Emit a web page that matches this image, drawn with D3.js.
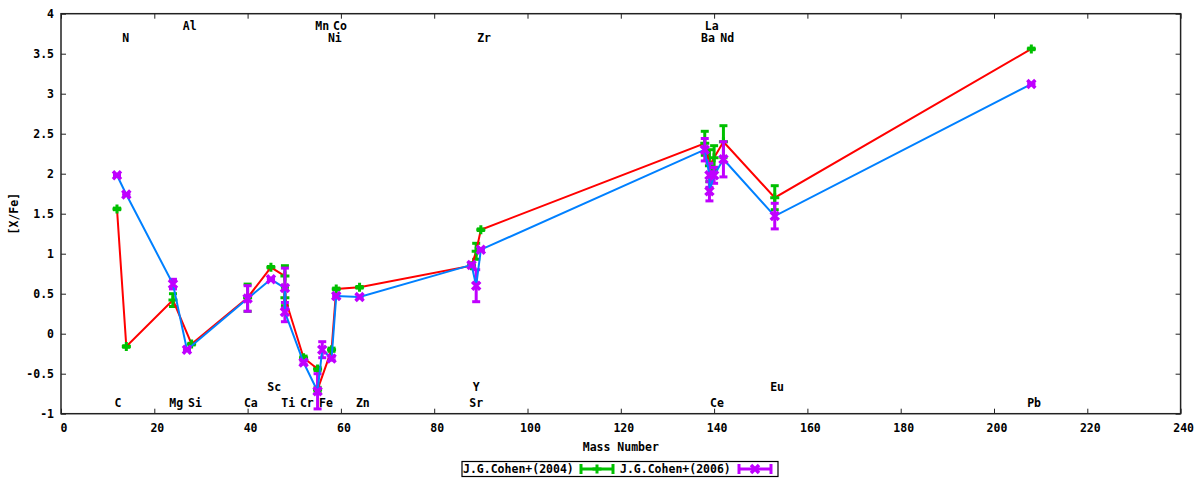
<!DOCTYPE html>
<html>
<head>
<meta charset="utf-8">
<script src="https://cdn.jsdelivr.net/npm/d3@7"></script>
<style>
  body { margin: 0; background: #fff; }
  text { font-family: "DejaVu Sans Mono", monospace; font-weight: bold; font-size: 11.5px; fill: #000; }
</style>
</head>
<body>
<script>
// J.G.Cohen+(2004): mass number, [X/Fe], error
var mass2004 = [12, 14, 24, 28, 40, 45, 48, 48, 52, 55, 55, 58, 59, 64, 88, 89, 90, 138, 139, 140, 142, 153, 208];
var val2004 = [1.56, -0.16, 0.42, -0.13, 0.45, 0.83, 0.72, 0.45, -0.30, -0.44, -0.70, -0.20, 0.56, 0.58, 0.85, 1.03, 1.30, 2.38, 2.10, 2.20, 2.40, 1.70, 3.56];
var err2004 = [0.01, 0.01, 0.08, 0.01, 0.17, 0.01, 0.13, 0.10, 0.02, 0.02, 0.03, 0.02, 0.01, 0.01, 0.02, 0.10, 0.01, 0.15, 0.20, 0.15, 0.20, 0.15, 0.01];

// J.G.Cohen+(2006)
var mass2006 = [12, 14, 24, 27, 40, 45, 48, 48, 52, 55, 56, 58, 59, 64, 88, 89, 90, 138, 139, 139, 140, 142, 153, 208];
var val2006 = [1.98, 1.74, 0.62, -0.20, 0.44, 0.68, 0.57, 0.27, -0.36, -0.72, -0.20, -0.31, 0.47, 0.46, 0.86, 0.60, 1.05, 2.30, 1.98, 1.78, 1.98, 2.18, 1.47, 3.12];
var err2006 = [0.01, 0.01, 0.06, 0.01, 0.16, 0.01, 0.25, 0.12, 0.02, 0.22, 0.10, 0.02, 0.01, 0.01, 0.02, 0.20, 0.01, 0.14, 0.15, 0.12, 0.10, 0.22, 0.16, 0.01];

// element labels (data coordinates)
var elemNames = ['Al', 'Mn', 'Co', 'La', 'N', 'Ni', 'Zr', 'Ba', 'Nd', 'Sc', 'Y', 'Eu',
  'C', 'Mg', 'Si', 'Ca', 'Ti', 'Cr', 'Fe', 'Zn', 'Sr', 'Ce', 'Pb'];
var elemX = [27.6, 56, 59.8, 139.5, 13.9, 58.7, 90.7, 138.7, 142.8, 45.7, 89, 153.5,
  12.2, 24.7, 28.7, 40.7, 48.7, 52.7, 56.8, 64.7, 89, 140.6, 208.6];
var elemY = [3.85, 3.85, 3.85, 3.85, 3.7, 3.7, 3.7, 3.7, 3.7, -0.67, -0.67, -0.67,
  -0.87, -0.87, -0.87, -0.87, -0.87, -0.87, -0.87, -0.87, -0.87, -0.87, -0.87];

var xTicks = d3.range(0, 241, 20);
var yTicks = [-1, -0.5, 0, 0.5, 1, 1.5, 2, 2.5, 3, 3.5, 4];

var width = 1200, height = 480;
var plotLeft = 61, plotRight = 1180.6, plotTop = 13.7, plotBottom = 413.7;

var svg = d3.select('body').append('svg').attr('width', width).attr('height', height);

var x = d3.scaleLinear().domain([0, 240]).range([plotLeft, plotRight]);
var y = d3.scaleLinear().domain([-1, 4]).range([plotBottom, plotTop]);

function fmt(d) { return String(d); }

var xAxisG = svg.append('g').attr('transform', `translate(0,${plotBottom})`)
  .call(d3.axisBottom(x).tickValues(xTicks).tickSize(-5).tickPadding(10).tickFormat(fmt));
svg.append('g').attr('transform', `translate(0,${plotTop})`)
  .call(d3.axisTop(x).tickValues(xTicks).tickSize(-5).tickFormat(''));
svg.append('g').attr('transform', `translate(${plotLeft},0)`)
  .call(d3.axisLeft(y).tickValues(yTicks).tickSize(-5).tickPadding(7).tickFormat(fmt));
svg.append('g').attr('transform', `translate(${plotRight},0)`)
  .call(d3.axisRight(y).tickValues(yTicks).tickSize(-5).tickFormat(''));

svg.selectAll('.domain').remove();
svg.selectAll('.tick line').attr('stroke', '#222').attr('stroke-width', 1);
svg.selectAll('.tick text').attr('font-family', null).attr('font-size', null).attr('fill', '#000');
xAxisG.selectAll('.tick text').attr('dx', 2.5);

svg.append('rect')
  .attr('x', plotLeft).attr('y', plotTop)
  .attr('width', plotRight - plotLeft).attr('height', plotBottom - plotTop)
  .attr('fill', 'none').attr('stroke', '#222').attr('stroke-width', 1.5);

svg.append('text').attr('x', (plotLeft + plotRight) / 2).attr('y', 447)
  .attr('text-anchor', 'middle').attr('dominant-baseline', 'central').text('Mass Number');
svg.append('text').attr('transform', `translate(14,${(plotTop + plotBottom) / 2}) rotate(-90)`)
  .attr('text-anchor', 'middle').attr('dominant-baseline', 'central').text('[X/Fe]');

// element labels
svg.append('g').selectAll('text').data(elemNames).enter().append('text')
  .attr('x', function (d, i) { return x(elemX[i]); })
  .attr('y', function (d, i) { return y(elemY[i]); })
  .attr('text-anchor', 'middle').attr('dominant-baseline', 'central')
  .text(function (d) { return d; });

var plusPath = 'M-4.5,0H4.5M0,-4.5V4.5';
var crossPath = 'M-4,-4L4,4M-4,4L4,-4';

function drawSeries(mass, val, err, lineColor, pointColor, marker, markerWidth) {
  var pts = mass.map(function (m, i) { return { m: m, v: val[i], e: err[i] }; });
  var g = svg.append('g');
  // error bars
  var eb = g.selectAll('.eb').data(pts).enter().append('g');
  eb.append('line')
    .attr('x1', function (d) { return x(d.m); }).attr('x2', function (d) { return x(d.m); })
    .attr('y1', function (d) { return y(d.v - d.e); }).attr('y2', function (d) { return y(d.v + d.e); })
    .attr('stroke', pointColor).attr('stroke-width', 3);
  [-1, 1].forEach(function (s) {
    eb.append('line')
      .attr('x1', function (d) { return x(d.m) - 4; }).attr('x2', function (d) { return x(d.m) + 4; })
      .attr('y1', function (d) { return y(d.v + s * d.e); }).attr('y2', function (d) { return y(d.v + s * d.e); })
      .attr('stroke', pointColor).attr('stroke-width', 3);
  });
  // connecting line
  g.append('path').datum(pts)
    .attr('d', d3.line().x(function (d) { return x(d.m); }).y(function (d) { return y(d.v); }))
    .attr('fill', 'none').attr('stroke', lineColor).attr('stroke-width', 2);
  // markers
  g.selectAll('.pt').data(pts).enter().append('path')
    .attr('transform', function (d) { return `translate(${x(d.m)},${y(d.v)})`; })
    .attr('d', marker).attr('fill', 'none')
    .attr('stroke', pointColor).attr('stroke-width', markerWidth);
}

drawSeries(mass2004, val2004, err2004, '#ff0000', '#00c000', plusPath, 3);
drawSeries(mass2006, val2006, err2006, '#0080ff', '#c000ff', crossPath, 3.5);

// legend
var legend = svg.append('g');
legend.append('rect').attr('x', 462).attr('y', 461.5).attr('width', 316).attr('height', 15)
  .attr('fill', '#fff').attr('stroke', '#000').attr('stroke-width', 1.2);
var entries = [
  { name: 'J.G.Cohen+(2004)', tx: 463, sx: 580, color: '#00c000', marker: plusPath, mw: 3 },
  { name: 'J.G.Cohen+(2006)', tx: 620, sx: 738, color: '#c000ff', marker: crossPath, mw: 3.5 }
];
entries.forEach(function (e) {
  legend.append('text').attr('x', e.tx).attr('y', 469).attr('dominant-baseline', 'central').text(e.name);
  legend.append('line').attr('x1', e.sx).attr('x2', e.sx + 34).attr('y1', 469).attr('y2', 469)
    .attr('stroke', e.color).attr('stroke-width', 3);
  [e.sx + 1, e.sx + 33].forEach(function (cx) {
    legend.append('line').attr('x1', cx).attr('x2', cx).attr('y1', 464).attr('y2', 474)
      .attr('stroke', e.color).attr('stroke-width', 3);
  });
  legend.append('path').attr('transform', `translate(${e.sx + 17},469)`)
    .attr('d', e.marker).attr('fill', 'none').attr('stroke', e.color).attr('stroke-width', e.mw);
});
</script>
</body>
</html>
